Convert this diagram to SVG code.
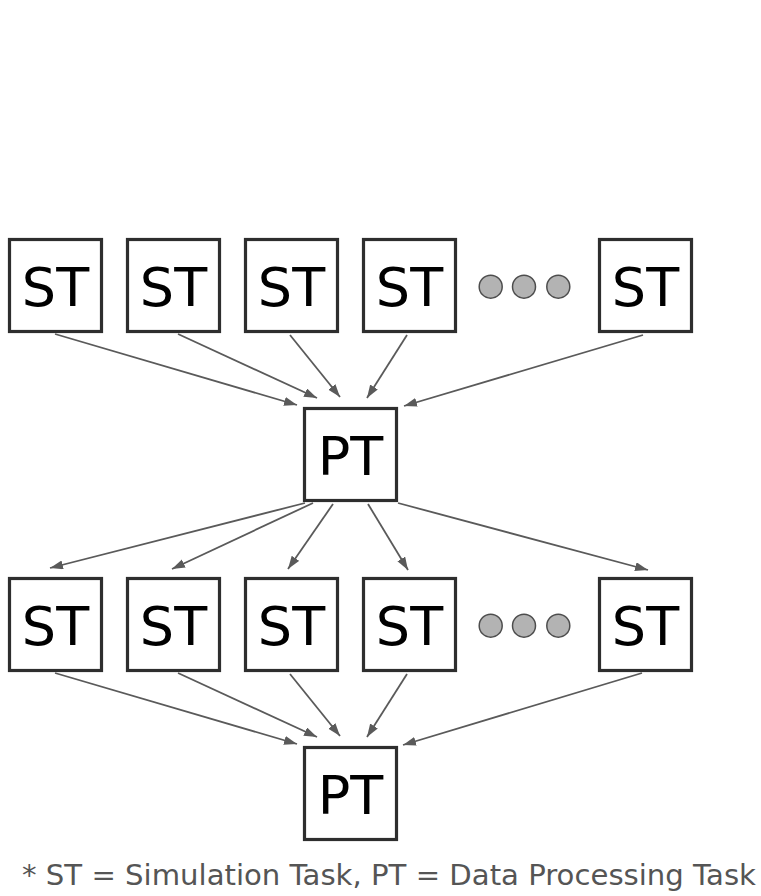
<svg xmlns="http://www.w3.org/2000/svg" width="761" height="896" viewBox="0 0 761 896">
<defs>
<marker id="ah" markerUnits="userSpaceOnUse" markerWidth="16" markerHeight="12" refX="13" refY="4.5" orient="auto">
<path d="M0,0 L13,4.5 L0,9 z" fill="#5a5a5a"/>
</marker>
<style>
.box{fill:#fff;stroke:#2e2e2e;stroke-width:3.2}
.lbl{font-family:"DejaVu Sans",sans-serif;font-size:54px;fill:#000;text-anchor:middle}
.dot{fill:#b3b3b3;stroke:#4d4d4d;stroke-width:1.5}
.c{stroke:#5a5a5a;stroke-width:1.8;fill:none;marker-end:url(#ah)}
.note{font-family:"DejaVu Sans",sans-serif;font-size:29px;fill:#555}
</style>
</defs>
<rect width="761" height="896" fill="#fff"/>
<g id="connectors">
<line class="c" x1="55" y1="334" x2="297" y2="405"/>
<line class="c" x1="178" y1="334" x2="317" y2="398"/>
<line class="c" x1="290" y1="335" x2="340" y2="397"/>
<line class="c" x1="407" y1="335" x2="367" y2="398"/>
<line class="c" x1="643" y1="335" x2="404" y2="406"/>
<line class="c" x1="305" y1="503" x2="50" y2="568"/>
<line class="c" x1="313" y1="503" x2="172" y2="569"/>
<line class="c" x1="333" y1="504" x2="288" y2="569"/>
<line class="c" x1="368" y1="504" x2="408" y2="570"/>
<line class="c" x1="398" y1="503" x2="648" y2="570"/>
<line class="c" x1="55" y1="673" x2="297" y2="744"/>
<line class="c" x1="178" y1="673" x2="317" y2="737"/>
<line class="c" x1="290" y1="674" x2="340" y2="736"/>
<line class="c" x1="407" y1="674" x2="367" y2="737"/>
<line class="c" x1="642" y1="673" x2="403" y2="745"/>
</g>
<g id="st1a"><rect class="box" x="9.5" y="239.5" width="92" height="92"/><text class="lbl" x="55.5" y="306">ST</text></g>
<g id="st1b"><rect class="box" x="127.5" y="239.5" width="92" height="92"/><text class="lbl" x="173.5" y="306">ST</text></g>
<g id="st1c"><rect class="box" x="245.5" y="239.5" width="92" height="92"/><text class="lbl" x="291.5" y="306">ST</text></g>
<g id="st1d"><rect class="box" x="363.5" y="239.5" width="92" height="92"/><text class="lbl" x="409.5" y="306">ST</text></g>
<g id="dots1"><circle class="dot" cx="490.7" cy="286.7" r="11.5"/><circle class="dot" cx="524" cy="286.7" r="11.5"/><circle class="dot" cx="558.3" cy="286.7" r="11.5"/></g>
<g id="st1e"><rect class="box" x="599.5" y="239.5" width="92" height="92"/><text class="lbl" x="645.5" y="306">ST</text></g>
<g id="pt1"><rect class="box" x="304.5" y="408.5" width="92" height="92"/><text class="lbl" x="350.5" y="475">PT</text></g>
<g id="st2a"><rect class="box" x="9.5" y="578.5" width="92" height="92"/><text class="lbl" x="55.5" y="645">ST</text></g>
<g id="st2b"><rect class="box" x="127.5" y="578.5" width="92" height="92"/><text class="lbl" x="173.5" y="645">ST</text></g>
<g id="st2c"><rect class="box" x="245.5" y="578.5" width="92" height="92"/><text class="lbl" x="291.5" y="645">ST</text></g>
<g id="st2d"><rect class="box" x="363.5" y="578.5" width="92" height="92"/><text class="lbl" x="409.5" y="645">ST</text></g>
<g id="dots2"><circle class="dot" cx="490.7" cy="625.7" r="11.5"/><circle class="dot" cx="524" cy="625.7" r="11.5"/><circle class="dot" cx="558.3" cy="625.7" r="11.5"/></g>
<g id="st2e"><rect class="box" x="599.5" y="578.5" width="92" height="92"/><text class="lbl" x="645.5" y="645">ST</text></g>
<g id="pt2"><rect class="box" x="304.5" y="747.5" width="92" height="92"/><text class="lbl" x="350.5" y="814">PT</text></g>
<g id="footnote"><text class="note" x="22" y="885" textLength="734" lengthAdjust="spacingAndGlyphs">* ST = Simulation Task, PT = Data Processing Task</text></g>
</svg>
